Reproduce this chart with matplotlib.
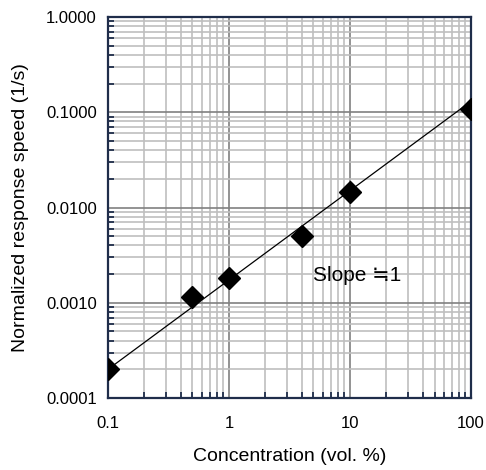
import matplotlib.pyplot as plt
from matplotlib.ticker import LogLocator, FixedLocator, NullFormatter

plt.rcParams['font.family'] = ['Liberation Sans', 'DejaVu Sans']

# measured points
conc = [0.1, 0.5, 1, 4, 10, 100]
speed = [0.0002, 0.00115, 0.0018, 0.0050, 0.0146, 0.108]

# fitted line end points
fit_x = [0.1, 100]
fit_y = [0.0002, 0.13]

xticks = [0.1, 1, 10, 100]
xticklabels = ['0.1', '1', '10', '100']
yticks = [0.0001, 0.001, 0.01, 0.1, 1]
yticklabels = ['0.0001', '0.0010', '0.0100', '0.1000', '1.0000']

edge = '#1f2d4a'

fig = plt.figure(figsize=(4.86, 4.70), dpi=100)
ax = fig.add_axes([0.222, 0.153, 0.747, 0.811])
ax.set_xscale('log')
ax.set_yscale('log')
ax.set_xlim(0.1, 100)
ax.set_ylim(0.0001, 1)

ax.plot(fit_x, fit_y, color='black', lw=0.9, zorder=3)
ax.plot(conc, speed, linestyle='none', marker='D', ms=11, color='black', zorder=4)

ax.xaxis.set_major_locator(FixedLocator(xticks))
ax.set_xticklabels(xticklabels)
ax.yaxis.set_major_locator(FixedLocator(yticks))
ax.set_yticklabels(yticklabels)
ax.xaxis.set_minor_locator(LogLocator(base=10, subs=range(2, 10), numticks=20))
ax.yaxis.set_minor_locator(LogLocator(base=10, subs=range(2, 10), numticks=20))
ax.xaxis.set_minor_formatter(NullFormatter())
ax.yaxis.set_minor_formatter(NullFormatter())

ax.grid(which='minor', color='#bfbfbf', lw=1.2, zorder=0)
ax.grid(which='major', color='#808080', lw=1.2, zorder=0)
ax.set_axisbelow(True)

ax.tick_params(axis='x', which='major', direction='in', length=0, labelsize=12, pad=13)
ax.tick_params(axis='y', which='major', direction='in', length=0, labelsize=12, pad=8)
ax.tick_params(which='minor', direction='in', length=4, width=1.3, color=edge)
for s in ax.spines.values():
    s.set_color(edge)
    s.set_linewidth(1.6)

ax.set_xlabel('Concentration (vol. %)', fontsize=14, labelpad=12)
ax.set_ylabel('Normalized response speed (1/s)', fontsize=14, labelpad=12)

ax.text(11.4, 0.00195, 'Slope \u22521', fontsize=15, ha='center', va='center', zorder=5)

fig.savefig('out.png', dpi=100)
